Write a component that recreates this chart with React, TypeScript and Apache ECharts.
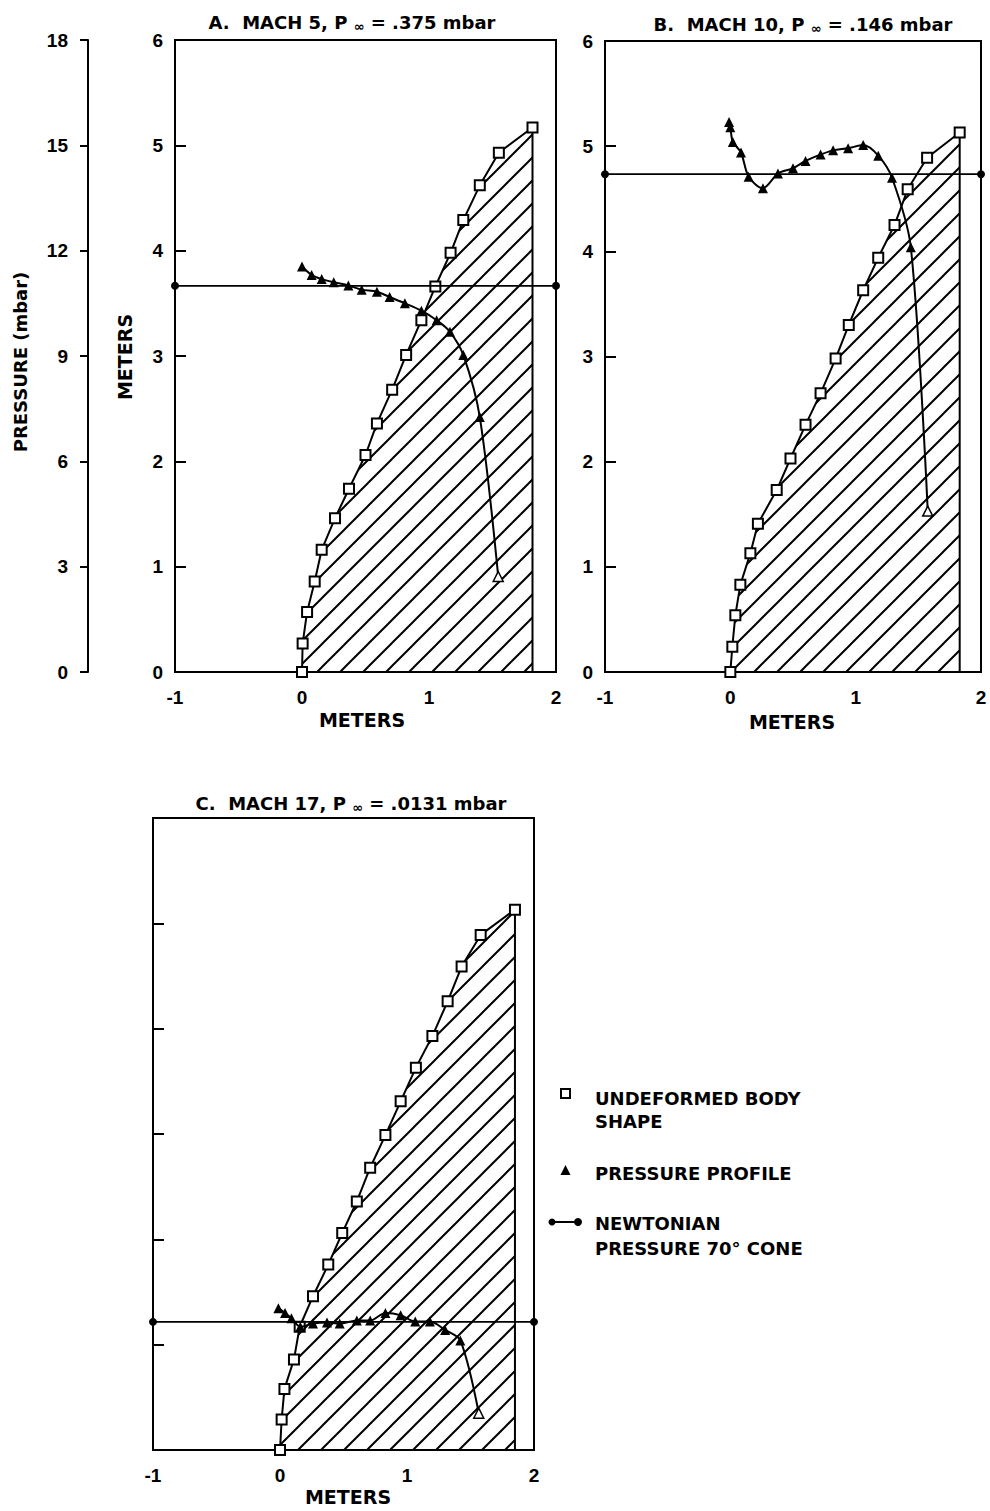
import React, { useEffect, useRef } from "react";
import * as echarts from "echarts";

// ---- data (meters for body shape, mbar for pressure) ----
const xTicks = [-1, 0, 1, 2];
const meterRange = [0, 6];
const pressureRange = [0, 18];

const bodyA = [
  [0, 0], [0.005, 0.27], [0.04, 0.57], [0.1, 0.86], [0.155, 1.16], [0.26, 1.46],
  [0.37, 1.74], [0.5, 2.06], [0.59, 2.36], [0.71, 2.68], [0.82, 3.01], [0.94, 3.34],
  [1.05, 3.66], [1.17, 3.98], [1.27, 4.29], [1.4, 4.62], [1.55, 4.93], [1.815, 5.17],
];
const bodyB = [
  [0, 0], [0.016, 0.24], [0.04, 0.54], [0.08, 0.83], [0.16, 1.13], [0.22, 1.41],
  [0.37, 1.73], [0.48, 2.03], [0.6, 2.35], [0.72, 2.65], [0.84, 2.98], [0.945, 3.3],
  [1.06, 3.63], [1.18, 3.94], [1.31, 4.25], [1.415, 4.59], [1.57, 4.89], [1.83, 5.13],
];
const bodyC = [
  [0, 0], [0.013, 0.29], [0.035, 0.58], [0.11, 0.86], [0.155, 1.17], [0.26, 1.46],
  [0.38, 1.76], [0.49, 2.06], [0.605, 2.36], [0.71, 2.68], [0.83, 2.99], [0.95, 3.31],
  [1.07, 3.63], [1.2, 3.93], [1.32, 4.26], [1.43, 4.59], [1.58, 4.89], [1.85, 5.13],
];

const pressureA = [
  [0.0, 11.55], [0.076, 11.31], [0.155, 11.19], [0.25, 11.1], [0.365, 11.01],
  [0.47, 10.89], [0.59, 10.83], [0.69, 10.68], [0.81, 10.5], [0.94, 10.29],
  [1.06, 10.02], [1.165, 9.69], [1.27, 9.03], [1.4, 7.26], [1.545, 2.72],
];
const pressureB = [
  [-0.01, 15.69], [0.0, 15.54], [0.02, 15.12], [0.085, 14.82], [0.146, 14.13],
  [0.26, 13.8], [0.38, 14.22], [0.5, 14.37], [0.6, 14.58], [0.72, 14.76],
  [0.82, 14.88], [0.94, 14.94], [1.06, 15.03], [1.18, 14.73], [1.29, 14.1],
  [1.44, 12.12], [1.575, 4.59],
];
const pressureC = [
  [-0.013, 4.04], [0.04, 3.9], [0.09, 3.75], [0.16, 3.51], [0.26, 3.6],
  [0.37, 3.63], [0.47, 3.6], [0.605, 3.69], [0.71, 3.69], [0.83, 3.9],
  [0.95, 3.84], [1.065, 3.66], [1.18, 3.66], [1.3, 3.42], [1.42, 3.12],
  [1.565, 1.05],
];

const newtonian = [11.0, 14.2, 3.65];

const titles = [
  ["A.  MACH 5, P ", " = .375 mbar"],
  ["B.  MACH 10, P ", " = .146 mbar"],
  ["C.  MACH 17, P ", " = .0131 mbar"],
];

const legendLabels = [
  ["UNDEFORMED BODY", "SHAPE"],
  ["PRESSURE PROFILE"],
  ["NEWTONIAN", "PRESSURE 70° CONE"],
];

// ---- layout ----
const panels = [
  { left: 175, top: 40, width: 381, height: 632, labels: true, title: [352, 22], xname: [362, 720] },
  { left: 605, top: 41, width: 376, height: 631, labels: true, title: [803, 24], xname: [792, 722] },
  { left: 153, top: 818, width: 381, height: 632, labels: false, title: [351, 803], xname: [348, 1497] },
];

const hatchSvg =
  "<svg xmlns='http://www.w3.org/2000/svg' width='23' height='23'>" +
  "<path d='M-1,24 L24,-1 M-1,1 L1,-1 M22,24 L24,22' stroke='#000' stroke-width='2' fill='none'/></svg>";
const hatchUrl = "data:image/svg+xml;charset=utf-8," + encodeURIComponent(hatchSvg);

const numFont = { fontFamily: "Liberation Sans", fontWeight: "bold" as const, fontSize: 19, color: "#000" };
const textFont = "DejaVu Sans";

export default function App() {
  const ref = useRef<HTMLDivElement>(null);

  useEffect(() => {
    document.body.style.margin = "0";
    if (!ref.current) return;
    const chart = echarts.init(ref.current, undefined, { renderer: "svg" });

    const bodies = [bodyA, bodyB, bodyC];
    const pressures = [pressureA, pressureB, pressureC];

    const grid: any[] = [{ left: 88, top: 40, width: 1, height: 632, show: false }];
    const xAxis: any[] = [{ gridIndex: 0, type: "value", show: false, min: 0, max: 1 }];
    const yAxis: any[] = [
      {
        gridIndex: 0, type: "value", min: pressureRange[0], max: pressureRange[1], interval: 3,
        position: "left",
        axisLine: { show: true, onZero: false, lineStyle: { color: "#000", width: 2 } },
        axisTick: { show: true, length: 8, lineStyle: { color: "#000", width: 2 } },
        axisLabel: { ...numFont, margin: 20 },
        splitLine: { show: false },
      },
    ];
    const series: any[] = [];

    panels.forEach((p, k) => {
      grid.push({
        left: p.left, top: p.top, width: p.width, height: p.height,
        show: true, borderColor: "#000", borderWidth: 2, backgroundColor: "transparent",
      });
      xAxis.push({
        gridIndex: k + 1, type: "value", min: xTicks[0], max: xTicks[xTicks.length - 1], interval: 1,
        position: "bottom",
        axisLine: { show: false, onZero: false }, axisTick: { show: false }, splitLine: { show: false },
        axisLabel: { ...numFont, margin: 16 },
      });
      yAxis.push({
        gridIndex: k + 1, type: "value", min: meterRange[0], max: meterRange[1], interval: 1,
        position: "left",
        axisLine: { show: false, onZero: false },
        axisTick: { show: true, inside: true, length: 11, lineStyle: { color: "#000", width: 2 } },
        axisLabel: { ...numFont, show: p.labels, margin: 12 },
        splitLine: { show: false },
      });
      yAxis.push({
        gridIndex: k + 1, type: "value", min: pressureRange[0], max: pressureRange[1], show: false,
        position: "right", axisLine: { onZero: false },
      });

      const body = bodies[k];
      const endX = body[body.length - 1][0];
      series.push({
        type: "line", xAxisIndex: k + 1, yAxisIndex: 1 + 2 * k, z: 2,
        data: [...body.map((d) => ({ value: d })), { value: [endX, 0], symbol: "none" }],
        symbol: "rect", symbolSize: 10,
        itemStyle: { color: "#fff", borderColor: "#000", borderWidth: 2 },
        lineStyle: { color: "#000", width: 2 },
        areaStyle: { color: { image: hatchUrl, repeat: "repeat", imageWidth: 23, imageHeight: 23 }, opacity: 1 },
      });

      const pr = pressures[k];
      series.push({
        type: "line", xAxisIndex: k + 1, yAxisIndex: 2 + 2 * k, z: 3,
        smooth: 0.3,
        data: pr.map((d, i) =>
          i === pr.length - 1
            ? { value: d, itemStyle: { color: "#fff", borderColor: "#000", borderWidth: 1.5 } }
            : { value: d }
        ),
        symbol: "triangle", symbolSize: 10,
        itemStyle: { color: "#000" },
        lineStyle: { color: "#000", width: 2 },
      });

      series.push({
        type: "line", xAxisIndex: k + 1, yAxisIndex: 2 + 2 * k, z: 4, clip: false,
        data: [[xTicks[0], newtonian[k]], [xTicks[xTicks.length - 1], newtonian[k]]],
        symbol: "circle", symbolSize: 8,
        itemStyle: { color: "#000" },
        lineStyle: { color: "#000", width: 1.8 },
      });
    });

    const graphic: any[] = [];
    panels.forEach((p, k) => {
      graphic.push({
        type: "text", x: p.title[0], y: p.title[1],
        style: {
          text: `{t|${titles[k][0]}}{s|∞}{t|${titles[k][1]}}`,
          align: "center", verticalAlign: "middle",
          rich: {
            t: { fontFamily: textFont, fontWeight: "bold", fontSize: 18, lineHeight: 22, fill: "#000" },
            s: { fontFamily: textFont, fontWeight: "bold", fontSize: 13, lineHeight: 12, verticalAlign: "bottom", fill: "#000" },
          },
        },
      });
      graphic.push({
        type: "text", x: p.xname[0], y: p.xname[1],
        style: { text: "METERS", align: "center", verticalAlign: "middle", fontFamily: textFont, fontWeight: "bold", fontSize: 19, fill: "#000" },
      });
    });
    graphic.push({
      type: "text", x: 125, y: 357, rotation: Math.PI / 2,
      style: { text: "METERS", align: "center", verticalAlign: "middle", fontFamily: textFont, fontWeight: "bold", fontSize: 19, fill: "#000" },
    });
    graphic.push({
      type: "text", x: 20, y: 362, rotation: Math.PI / 2,
      style: { text: "PRESSURE (mbar)", align: "center", verticalAlign: "middle", fontFamily: textFont, fontWeight: "bold", fontSize: 18, fill: "#000" },
    });

    // legend
    graphic.push({ type: "rect", shape: { x: 561, y: 1089, width: 9, height: 9 }, style: { fill: "#fff", stroke: "#000", lineWidth: 2 } });
    graphic.push({ type: "polygon", shape: { points: [[565.5, 1165], [560.5, 1175], [570.5, 1175]] }, style: { fill: "#000" } });
    graphic.push({ type: "line", shape: { x1: 552, y1: 1222, x2: 578, y2: 1222 }, style: { stroke: "#000", lineWidth: 2 } });
    graphic.push({ type: "circle", shape: { cx: 552, cy: 1222, r: 3.5 }, style: { fill: "#000" } });
    graphic.push({ type: "circle", shape: { cx: 578, cy: 1222, r: 4 }, style: { fill: "#000" } });
    const legendRows = [[1098, 1121], [1173], [1223, 1248]];
    legendLabels.forEach((lines, i) => {
      lines.forEach((line, j) => {
        graphic.push({
          type: "text", x: 595, y: legendRows[i][j],
          style: { text: line, align: "left", verticalAlign: "middle", fontFamily: textFont, fontWeight: "bold", fontSize: 18, fill: "#000" },
        });
      });
    });

    chart.setOption({
      animation: false,
      backgroundColor: "#fff",
      grid, xAxis, yAxis, series, graphic,
    });
    return () => chart.dispose();
  }, []);

  return <div ref={ref} style={{ width: 990, height: 1511 }} />;
}
